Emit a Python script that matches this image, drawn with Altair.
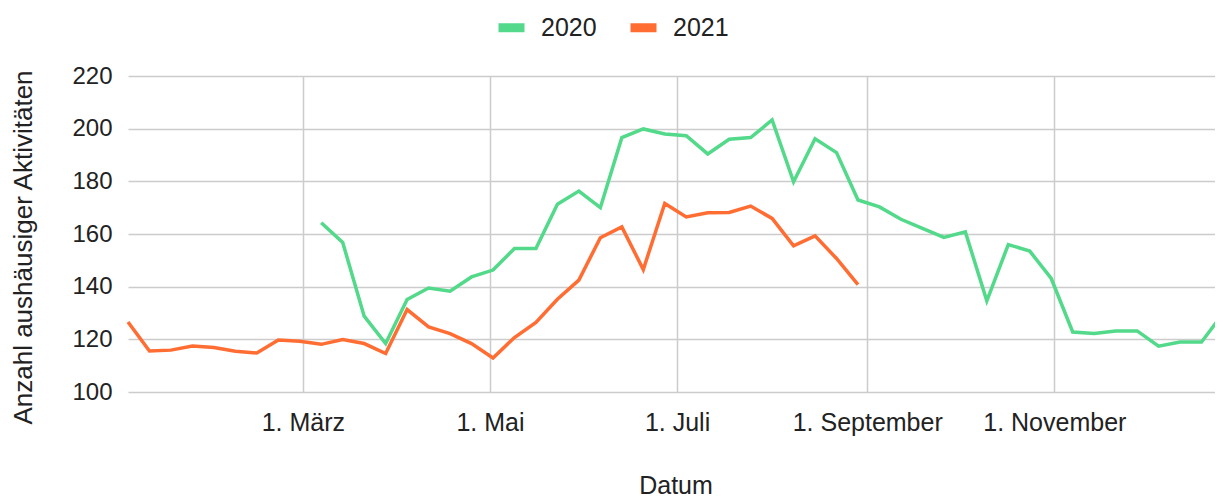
import altair as alt
import pandas as pd

# weekly x positions (week starts)
weeks = [d.strftime("%Y-%m-%dT00:00:00") for d in pd.date_range("2021-01-03", periods=52, freq="7D")]

series_names = ["2020", "2021"]
colors = ["#52D98A", "#FF6D33"]

# 2020 starts at week index 9
start_2020 = 9
values_2020 = [164.3, 156.8, 128.8, 118.4, 135.1, 139.5, 138.3, 143.7, 146.3, 154.5,
               154.5, 171.3, 176.3, 170.0, 196.6, 199.9, 198.0, 197.3, 190.4, 196.0,
               196.6, 203.3, 179.8, 196.2, 190.9, 172.9, 170.3, 165.6, 162.1, 158.7,
               160.8, 134.6, 156.0, 153.5, 143.1, 122.8, 122.2, 123.2, 123.2, 117.4,
               119.0, 119.0, 129.8]
start_2021 = 0
values_2021 = [126.6, 115.6, 115.9, 117.5, 116.9, 115.5, 114.8, 119.7, 119.3, 118.1,
               119.9, 118.4, 114.6, 131.3, 124.7, 122.2, 118.4, 112.9, 120.7, 126.4,
               135.2, 142.5, 158.6, 162.7, 146.5, 171.6, 166.5, 168.1, 168.2, 170.6,
               165.9, 155.5, 159.3, 150.7, 140.8]

tick_dates = ["2021-03-01T00:00:00", "2021-05-01T00:00:00", "2021-07-01T00:00:00",
              "2021-09-01T00:00:00", "2021-11-01T00:00:00"]
month_names = ["Januar", "Februar", "März", "April", "Mai", "Juni", "Juli",
               "August", "September", "Oktober", "November", "Dezember"]
y_ticks = [100, 120, 140, 160, 180, 200, 220]

rows = []
for i, v in enumerate(values_2020):
    rows.append({"Datum": weeks[start_2020 + i], "Jahr": "2020", "Wert": v})
for i, v in enumerate(values_2021):
    rows.append({"Datum": weeks[start_2021 + i], "Jahr": "2021", "Wert": v})
df = pd.DataFrame(rows)

FONT = "Liberation Sans"
month_js = "[" + ",".join("'" + m + "'" for m in month_names) + "]"

chart = alt.Chart(df).mark_line(strokeWidth=3.5).encode(
    x=alt.X("Datum:T",
            scale=alt.Scale(domain=[weeks[0], weeks[-1]], nice=False, range=[0, 1095]),
            axis=alt.Axis(title="Datum", values=tick_dates,
                          labelExpr="date(datum.value) + '. ' + " + month_js + "[month(datum.value)]",
                          ticks=False, tickSize=0, domain=False, grid=True,
                          labelBaseline="alphabetic", labelPadding=38,
                          labelFontSize=25, titleFontSize=25,
                          titleBaseline="alphabetic", titleY=101, titleX=547.5,
                          titleFontWeight="normal", labelOverlap=False)),
    y=alt.Y("Wert:Q",
            scale=alt.Scale(domain=[100, 220], nice=False, zero=False),
            axis=alt.Axis(title="Anzahl aushäusiger Aktivitäten", values=y_ticks,
                          ticks=False, tickSize=0, domain=False, grid=True,
                          labelPadding=16, labelFontSize=24, titleFontSize=26,
                          titleBaseline="alphabetic", titleX=-97, titleY=171,
                          titleFontWeight="normal")),
    color=alt.Color("Jahr:N",
                    scale=alt.Scale(domain=series_names, range=colors),
                    legend=alt.Legend(title=None, orient="none", direction="horizontal",
                                      legendX=366, legendY=-66,
                                      symbolType="M-1,0L1,0", symbolSize=676,
                                      symbolStrokeWidth=9,
                                      labelFontSize=25, labelOffset=12,
                                      columnPadding=15)),
).properties(
    width=1087, height=316,
    autosize=alt.AutoSizeParams(type="none"),
    padding={"left": 120, "top": 68, "right": 0, "bottom": 108},
).configure_axis(
    gridColor="#cccccc", gridWidth=1.5,
    labelColor="#222222", titleColor="#222222",
    labelFont=FONT, titleFont=FONT,
).configure_legend(
    labelFont=FONT, labelColor="#222222",
).configure_view(stroke=None)

chart.save("out.html", embed_options={"renderer": "svg", "actions": False})
